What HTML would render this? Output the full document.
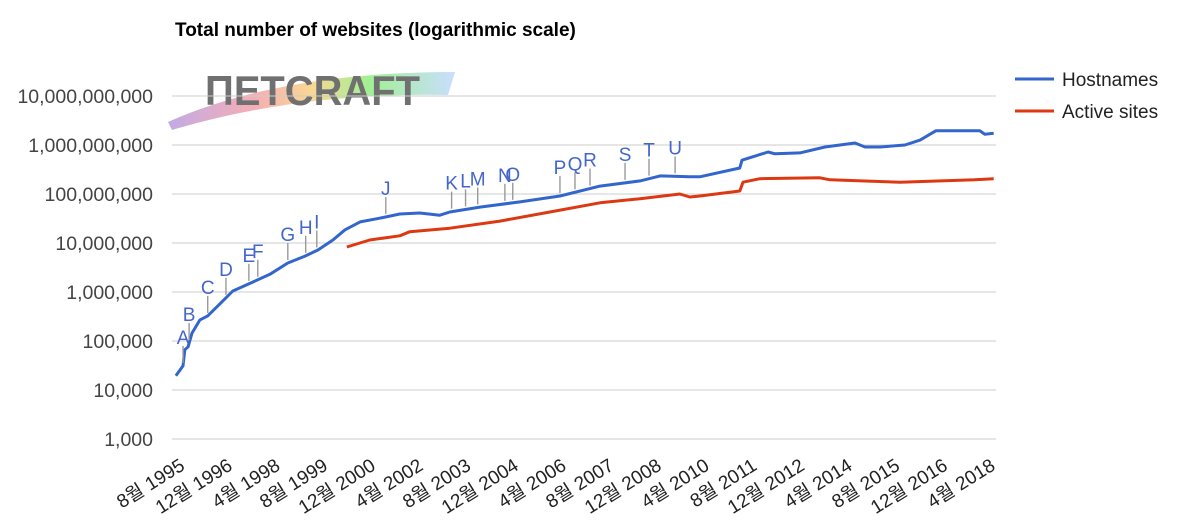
<!DOCTYPE html>
<html><head><meta charset="utf-8"><style>
body{margin:0;background:#fff;}
svg text{font-family:"Liberation Sans","Noto Sans CJK KR",sans-serif;}
</style></head><body>
<svg id="chart" width="1186" height="520" viewBox="0 0 1186 520" xmlns="http://www.w3.org/2000/svg">
<rect width="1186" height="520" fill="#ffffff"/>
<text x="175" y="36" font-size="19" font-weight="bold" fill="#000">Total number of websites (logarithmic scale)</text>
<g id="logo">
  <defs>
    <linearGradient id="rb" x1="0" x2="1" y1="0" y2="0">
      <stop offset="0" stop-color="#b79be0"/><stop offset="0.3" stop-color="#f3a0a8"/>
      <stop offset="0.5" stop-color="#f8d080"/><stop offset="0.7" stop-color="#90ee80"/>
      <stop offset="1" stop-color="#c0d8ff"/>
    </linearGradient>
  </defs>
  <path d="M168 122 Q280 72 455 72 L448 95 Q300 92 172 130 Z" fill="url(#rb)" opacity="0.85"/>
  <text x="205" y="105" font-size="42" font-weight="bold" fill="#707070" textLength="215" lengthAdjust="spacingAndGlyphs">ΠETCRAFT</text>
</g>
<g id="grid"></g>
<g id="series"></g>
<g id="annot"></g>
<g id="xaxis"></g>
<g>
  <line x1="1015" y1="79" x2="1054" y2="79" stroke="#3366cc" stroke-width="3"/>
  <text x="1062" y="86" font-size="19" fill="#222">Hostnames</text>
  <line x1="1015" y1="111" x2="1054" y2="111" stroke="#dc3912" stroke-width="3"/>
  <text x="1062" y="118" font-size="19" fill="#222">Active sites</text>
</g>
</svg>
<script>
const yTickValues=[1e3,1e4,1e5,1e6,1e7,1e8,1e9,1e10];
const yTickLabels=["1,000","10,000","100,000","1,000,000","10,000,000","100,000,000","1,000,000,000","10,000,000,000"];
const xTickYears=[1995.583,1996.917,1998.25,1999.583,2000.917,2002.25,2003.583,2004.917,2006.25,2007.583,2008.917,2010.25,2011.583,2012.917,2014.25,2015.583,2016.917,2018.25];
const xTickLabels=["8월 1995","12월 1996","4월 1998","8월 1999","12월 2000","4월 2002","8월 2003","12월 2004","4월 2006","8월 2007","12월 2008","4월 2010","8월 2011","12월 2012","4월 2014","8월 2015","12월 2016","4월 2018"];
const hostYears=[1995.58,1995.78,1995.83,1995.92,1996.03,1996.25,1996.47,1996.98,1997.17,1997.65,1998.21,1998.71,1999.19,1999.55,1999.97,2000.31,2000.73,2001.28,2001.84,2002.40,2002.96,2003.24,2004.08,2005.20,2006.32,2007.44,2008.56,2009.12,2009.95,2010.23,2011.35,2011.41,2012.14,2012.33,2013.03,2013.73,2014.57,2014.85,2015.27,2015.97,2016.39,2016.83,2018.06,2018.20,2018.45];
const hostValues=[19.5e3,31e3,66e3,76e3,145e3,270e3,325e3,760e3,1.05e6,1.5e6,2.3e6,3.9e6,5.4e6,7.2e6,11.5e6,18.6e6,27e6,32e6,39e6,41e6,37e6,43e6,54e6,69e6,91e6,145e6,185e6,234e6,224e6,224e6,340e6,490e6,720e6,660e6,690e6,910e6,1.1e9,910e6,910e6,1.0e9,1.26e9,1.95e9,1.95e9,1.66e9,1.74e9];
const activeYears=[2000.36,2001.0,2001.84,2002.12,2003.24,2004.64,2006.04,2007.44,2008.56,2009.67,2009.95,2010.23,2011.35,2011.44,2011.91,2013.59,2013.87,2015.83,2017.92,2018.45];
const activeValues=[8.3e6,11.5e6,14e6,17e6,20e6,28e6,43e6,66e6,80e6,100e6,87e6,91e6,115e6,174e6,205e6,214e6,195e6,174e6,195e6,205e6];
const annotLetters=["A","B","C","D","E","F","G","H","I","J","K","L","M","N","O","P","Q","R","S","T","U"];
const annotYears=[1995.78,1995.95,1996.47,1996.98,1997.62,1997.87,1998.71,1999.21,1999.52,2001.45,2003.29,2003.68,2004.02,2004.78,2005.0,2006.32,2006.74,2007.16,2008.14,2008.81,2009.54];
const NS="http://www.w3.org/2000/svg";
function xs(yr){return 176+(yr-1995.583)*35.76;}
function ys(v){return 439-(Math.log10(v)-3)*49;}
function mk(tag,attrs,parent){const e=document.createElementNS(NS,tag);for(const k in attrs)e.setAttribute(k,attrs[k]);parent.appendChild(e);return e;}
const grid=document.getElementById('grid'),ser=document.getElementById('series'),ann=document.getElementById('annot'),xa=document.getElementById('xaxis');
yTickValues.forEach((v,i)=>{
  const l=mk('line',{x1:172,x2:996,y1:ys(v),y2:ys(v),stroke:'#cccccc','stroke-width':1},grid);
  
  
  const t=mk('text',{x:153,y:ys(v)+7,'text-anchor':'end','font-size':19.5,fill:'#444'},grid);
  
  
  t.textContent=yTickLabels[i];
});
xTickYears.forEach((yr,i)=>{
  const t=mk('text',{transform:`translate(${xs(yr)+2},456) rotate(-32)`,x:0,y:15,'text-anchor':'end','font-size':19,fill:'#222'},xa);
  
  
  t.textContent=xTickLabels[i];
});
function path(yrs,vals){return yrs.map((y,i)=>(i?'L':'M')+xs(y).toFixed(1)+' '+ys(vals[i]).toFixed(1)).join(' ');}
const pa=mk('path',{d:path(activeYears,activeValues),fill:'none',stroke:'#dc3912','stroke-width':3,'stroke-linejoin':'round'},ser);


const ph=mk('path',{d:path(hostYears,hostValues),fill:'none',stroke:'#3366cc','stroke-width':3,'stroke-linejoin':'round'},ser);


function interp(yr){for(let i=1;i<hostYears.length;i++){if(yr<=hostYears[i]){const f=(yr-hostYears[i-1])/(hostYears[i]-hostYears[i-1]);return Math.pow(10,Math.log10(hostValues[i-1])+f*(Math.log10(hostValues[i])-Math.log10(hostValues[i-1])));}}return hostValues[hostValues.length-1];}
annotLetters.forEach((L,i)=>{
  const x=xs(annotYears[i]),yb=ys(interp(annotYears[i]));
  const l=mk('line',{x1:x,x2:x,y1:yb-3,y2:yb-20,stroke:'#999','stroke-width':1.4},ann);
  
  
  const t=mk('text',{x:x,y:yb-22,'text-anchor':'middle','font-size':19,fill:'#4466cc'},ann);
  
  
  t.textContent=L;
});
</script>
</body></html>
